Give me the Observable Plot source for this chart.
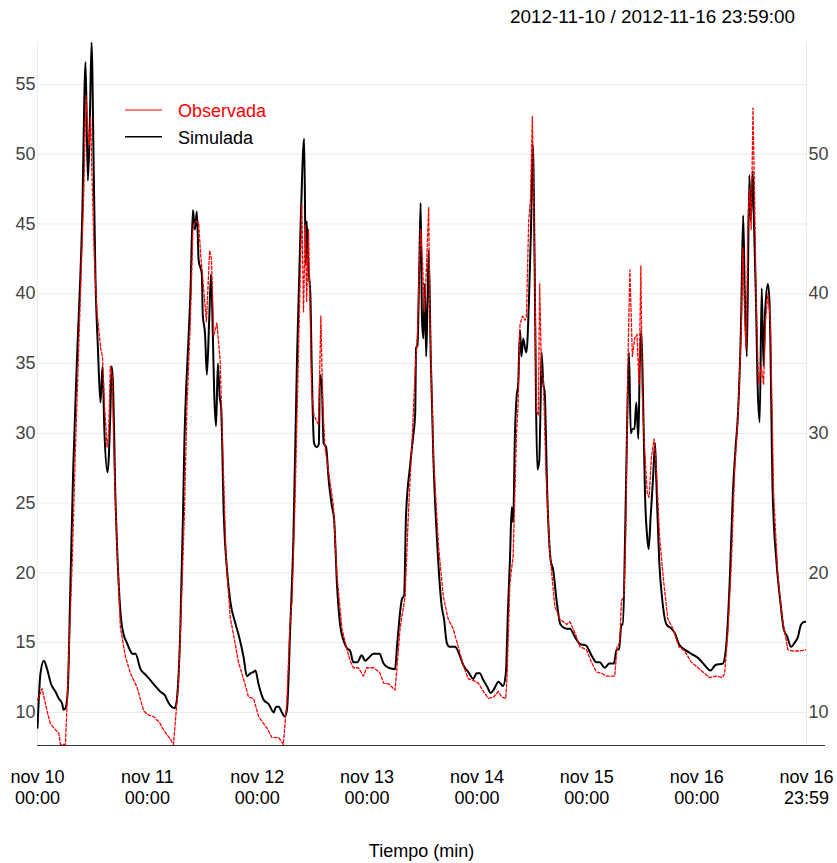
<!DOCTYPE html>
<html>
<head>
<meta charset="utf-8">
<script src="https://cdn.jsdelivr.net/npm/d3@7"></script>
<script src="https://cdn.jsdelivr.net/npm/@observablehq/plot@0.6"></script>
<style>
  body { margin: 0; background: #fff; font-family: "Liberation Sans", Arial, sans-serif; }
  #wrap { position: relative; width: 837px; height: 863px; overflow: hidden; }
  #title { position: absolute; top: 7px; right: 42px; font-size: 18.9px; line-height: 20px; color: #000; white-space: nowrap; }
  #chart { position: absolute; top: 35px; left: 0; }
  .leg { position: absolute; left: 178px; font-size: 18px; line-height: 20px; white-space: nowrap; }
  #legsvg { position: absolute; left: 125px; top: 100px; }
  #xtitle { position: absolute; top: 841px; left: 0; width: 843px; text-align: center; font-size: 18px; line-height: 20px; color: #000; }
  #axisext { position: absolute; left: 806px; top: 744.5px; width: 19px; height: 1px; background: #333; }
</style>
</head>
<body>
<div id="wrap">
  <div id="title"></div>
  <div id="chart"></div>
  <svg id="legsvg" width="40" height="50"></svg>
  <div class="leg" id="leg0" style="top:101px"></div>
  <div class="leg" id="leg1" style="top:128px"></div>
  <div id="xtitle"></div>
  <div id="axisext"></div>
</div>
<script>
// ---- Data (hours since 2012-11-10 00:00) ----
const titleText = "2012-11-10 / 2012-11-16 23:59:00";
const xAxisTitle = "Tiempo (min)";
const seriesNames = ["Observada", "Simulada"];
const seriesColors = ["#ff0000", "#000000"];

const simHours = [0,0.65,1.4,2.1,3.0,3.9,4.65,5.4,5.7,6.1,6.6,7.2,7.8,8.65,9.75,10.5,11.0,11.4,11.8,12.3,12.65,13.2,13.75,14.2,14.6,15.3,15.9,16.2,16.5,17.0,17.5,18.25,18.8,19.5,20.3,20.7,21.4,22.5,23.6,24.7,25.7,26.8,27.9,28.3,29.0,29.9,30.3,30.7,31.2,31.8,32.1,32.4,32.8,33.4,33.95,34.4,34.8,35.2,35.9,36.1,36.6,37.0,37.5,37.9,38.3,38.6,39.0,39.4,39.8,40.1,40.7,41.4,42.1,43.2,43.9,45.0,45.75,46.5,47.2,47.6,48.3,49.4,50.5,51.6,52.1,52.7,53.4,54.0,54.5,55.2,55.9,56.7,57.5,58.25,58.6,58.8,59.2,59.6,59.9,60.4,61.0,61.45,61.7,62.1,62.5,63.05,63.6,64.3,64.8,65.4,66.1,66.8,67.6,68.3,69.0,69.9,70.8,71.6,72.3,73.4,74.7,75.6,76.7,78.1,78.6,79.6,80.1,80.5,81.4,82.0,82.5,82.7,83.0,83.4,83.7,84.0,84.3,84.6,84.9,85.2,85.45,85.9,86.5,87.35,88.3,88.8,89.4,90.0,91.2,92.1,93.0,94.1,95.2,95.9,96.6,97.4,98.3,99.0,99.6,100.7,101.7,102.3,102.8,103.2,103.6,103.9,104.3,104.65,105.0,105.4,105.7,106.1,106.5,106.8,107.4,107.8,108.2,108.6,108.9,109.2,109.6,109.9,110.1,110.5,110.8,111.35,112.1,112.65,113.4,114.25,115.6,116.3,117.4,118.5,119.8,121.0,122.1,122.8,123.9,124.9,125.9,126.5,127.05,127.55,127.9,128.35,128.8,129.2,129.6,129.95,130.4,130.8,131.25,131.55,131.9,132.3,132.7,133.2,133.5,133.95,134.45,134.9,135.2,135.8,136.5,137.4,138.5,139.2,140.1,141.4,142.8,144.3,145.7,147.0,148.1,149.7,150.5,151.2,151.9,152.5,153.0,153.7,154.15,154.5,154.95,155.5,155.8,156.25,156.5,156.95,157.3,157.75,158.2,158.6,158.95,159.55,159.9,160.6,161.4,162.25,163.0,163.8,164.6,165.4,166.1,166.8,167.6,167.983];
const simValues = [8.9,12.8,13.7,13.1,12.0,11.5,11.0,10.6,10.2,10.3,11.5,19.3,27.4,35.5,45.2,56.6,48.1,51.7,58.0,48.5,41.3,36.1,32.2,34.8,30.3,27.2,31.3,34.8,33.5,25.7,20.9,16.7,15.6,15.0,14.4,14.2,14.2,13.1,12.7,12.3,11.9,11.5,11.2,10.9,10.5,10.3,10.6,12.0,16.0,24.4,29.5,32.6,35.5,40.0,46.0,44.6,45.9,42.4,41.4,38.5,37.1,34.2,38.1,41.4,37.1,32.9,30.5,35.0,32.6,31.9,24.1,20.2,18.0,16.4,15.6,14.0,12.6,12.8,12.9,13.0,12.0,10.9,10.6,10.0,10.4,10.4,10.0,9.7,10.2,16.0,22.5,35.5,45.2,51.1,42.0,45.2,41.7,40.0,34.8,29.3,29.0,29.2,34.2,33.5,29.3,29.0,26.7,24.8,23.8,19.3,16.3,15.2,14.6,14.4,13.6,13.6,14.1,13.7,13.9,14.2,14.2,13.5,13.2,13.1,15.0,18.1,18.4,24.1,27.7,29.6,31.4,36.1,36.3,42.0,46.5,38.1,36.8,40.7,35.5,39.4,43.1,35.5,28.0,21.9,17.6,16.7,15.0,14.7,14.7,14.2,13.4,12.9,12.4,12.8,12.8,12.3,11.8,11.4,11.6,12.2,11.9,12.8,17.6,20.9,24.7,23.6,30.0,32.6,33.5,37.4,35.5,36.8,36.1,35.8,40.0,44.6,50.7,42.0,32.2,27.4,28.0,32.2,35.8,33.5,32.9,25.7,20.9,20.2,18.0,16.3,16.0,16.0,15.4,14.9,14.8,14.1,13.6,13.6,13.2,13.5,13.5,14.5,14.5,16.3,16.3,22.5,30.6,35.8,30.0,30.3,30.3,32.2,29.6,34.8,37.4,32.2,25.7,22.5,21.7,24.1,26.7,29.3,26.4,20.9,18.0,16.3,16.0,15.7,14.9,14.5,14.2,13.9,13.4,13.0,13.4,13.5,15.0,19.3,25.7,29.0,31.3,38.1,45.6,40.0,35.5,48.5,45.2,48.8,45.2,39.5,33.5,30.8,40.4,34.8,38.7,40.7,39.4,25.7,20.9,18.0,16.0,15.4,14.7,15.0,15.4,16.3,16.5,16.5];

const obsHours = [0,1.0,2.1,2.8,3.8,4.65,5.0,6.1,6.5,7.05,7.6,8.3,9.0,10.1,10.6,11.0,11.3,11.6,11.9,12.4,13.0,13.8,14.2,14.6,15.2,15.55,15.9,16.3,16.8,17.5,18.1,19.2,20.3,21.75,23.2,24.3,25.4,26.8,27.6,29.0,29.7,30.3,30.8,31.6,32.1,32.65,33.4,33.95,34.5,35.2,35.6,36.3,36.9,37.6,38.0,38.5,39.2,39.9,40.5,41.2,42.1,42.8,43.9,45.0,46.1,47.2,48.3,49.4,50.1,51.2,52.7,53.7,54.5,55.1,55.6,56.3,57.0,57.75,58.1,58.5,58.8,59.2,59.9,60.4,61.4,61.9,62.3,62.8,64.65,65.4,66.5,67.6,68.3,69.0,70.1,71.2,71.9,73.4,74.7,75.6,76.7,78.1,78.5,79.2,80.3,81.0,81.75,82.5,83.0,83.4,83.7,84.1,84.5,84.9,85.45,85.7,86.5,87.6,88.65,89.7,90.8,91.9,93.0,94.1,95.2,96.3,97.4,98.5,99.6,100.7,101.4,102.3,102.6,103.2,103.9,104.65,105.0,105.4,105.95,106.5,106.8,107.3,107.7,108.1,108.6,109.0,109.4,109.7,110.1,110.5,111.05,111.9,113.0,114.1,115.6,116.3,117.4,118.5,119.9,121.0,122.1,123.2,124.3,126.1,126.6,127.2,127.55,128.1,128.5,129.0,129.4,129.95,130.45,130.95,131.4,131.8,132.1,132.6,133.2,133.6,134.1,134.7,135.2,135.9,136.8,137.7,138.8,140.1,141.4,142.8,144.3,145.7,146.8,148.3,149.6,150.1,150.8,151.6,152.3,153.0,153.7,154.1,154.5,154.8,155.2,155.55,155.9,156.3,156.65,157.0,157.5,158.1,158.6,159.05,159.55,160.1,160.8,161.7,162.7,163.9,165.0,166.5,167.983];
const obsValues = [10.9,11.7,10.1,9.2,8.8,8.5,7.7,7.7,10.9,16.0,20.9,29.0,36.1,47.1,54.2,51.7,50.7,52.7,48.5,42.6,38.7,36.1,35.5,32.2,29.0,30.0,34.8,34.2,27.4,20.9,16.1,14.0,12.8,11.8,10.1,9.8,9.7,9.2,8.7,8.1,7.7,10.1,12.1,19.3,24.4,31.9,38.1,44.6,45.2,45.1,43.0,40.3,38.0,43.1,42.5,37.0,37.9,35.2,28.5,21.0,16.8,15.6,13.6,12.4,11.1,11.0,9.7,9.2,8.9,8.2,8.2,7.7,10.9,16.0,18.0,25.7,35.5,46.4,38.7,44.9,39.4,44.6,32.9,31.3,30.6,38.4,32.2,29.0,24.8,19.9,16.0,14.5,13.7,13.2,13.2,12.6,13.2,13.2,12.9,12.1,12.05,11.6,13.1,16.0,18.3,24.1,29.0,34.5,37.1,42.0,44.6,42.3,38.7,41.3,46.2,38.7,28.3,21.9,18.3,16.7,16.0,14.7,13.4,12.4,12.3,12.1,11.5,11.0,11.1,11.5,11.1,11.0,12.8,19.3,21.2,30.0,32.2,37.8,38.4,38.1,38.4,45.2,46.8,52.7,42.0,31.6,31.3,40.7,34.2,33.9,27.4,21.5,17.6,16.7,16.3,16.5,15.7,14.7,14.5,13.6,12.9,12.8,12.6,12.6,14.7,15.0,18.0,18.3,22.5,35.5,41.7,35.5,36.8,37.1,33.5,42.0,32.9,29.0,25.7,25.4,28.3,29.6,27.4,22.5,19.3,16.7,16.0,14.7,14.4,13.6,13.2,12.8,12.5,12.6,12.5,12.8,15.7,20.9,27.4,31.0,37.1,43.3,38.1,36.1,45.2,47.5,44.6,53.3,46.8,39.4,33.5,34.8,33.5,38.1,40.0,38.1,25.7,19.9,16.7,14.5,14.4,14.4,14.5];

const yTicksLeft = [10, 15, 20, 25, 30, 35, 40, 45, 50, 55];
const yTicksRight = [10, 20, 30, 40, 50];
const xTickHours = [0, 24, 48, 72, 96, 120, 144, 167.983];
const xTickLabels = ["nov 10\n00:00", "nov 11\n00:00", "nov 12\n00:00", "nov 13\n00:00", "nov 14\n00:00", "nov 15\n00:00", "nov 16\n00:00", "nov 16\n23:59"];
const yDomain = [7.63, 58.0];

// ---- Build ----
const T0 = Date.UTC(2012, 10, 10);
const toDate = h => new Date(T0 + Math.round(h * 60) * 60000);
const sim = simHours.map((h, i) => ({t: toDate(h), v: simValues[i]}));
const obs = obsHours.map((h, i) => ({t: toDate(h), v: obsValues[i]}));
const xTicks = xTickHours.map(toDate);
const labelMap = new Map(xTicks.map((d, i) => [+d, xTickLabels[i]]));
const xDomain = [xTicks[0], xTicks[xTicks.length - 1]];

const chart = Plot.plot({
  width: 837,
  height: 828,
  marginTop: 7,
  marginBottom: 118,
  marginLeft: 37,
  marginRight: 31,
  style: {fontFamily: "'Liberation Sans', Arial, sans-serif", fontSize: "18px", background: "#fff", overflow: "visible"},
  x: {type: "utc", domain: xDomain},
  y: {domain: yDomain},
  marks: [
    Plot.ruleY(yTicksLeft, {stroke: "#ebebeb", strokeWidth: 1}),
    Plot.ruleX(xDomain, {stroke: "#ebebeb", strokeWidth: 1}),
    Plot.axisY(yTicksLeft, {anchor: "left", tickSize: 0, tickPadding: 2, fill: "#444", fontSize: 18, label: null}),
    Plot.axisY(yTicksRight, {anchor: "right", tickSize: 0, tickPadding: 2, fill: "#444", fontSize: 18, label: null}),
    Plot.axisX(xTicks, {anchor: "bottom", tickSize: 0, tickPadding: 22, fill: "#000", fontSize: 18, lineHeight: 1.2, tickFormat: d => labelMap.get(+d), label: null}),
    Plot.ruleY([yDomain[0]], {stroke: "#333", strokeWidth: 1}),
    Plot.line(sim, {x: "t", y: "v", stroke: seriesColors[1], strokeWidth: 2, strokeLinejoin: "round", curve: "monotone-x", clip: true}),
    Plot.line(obs, {x: "t", y: "v", stroke: seriesColors[0], strokeWidth: 1.3, strokeDasharray: "3,2", clip: true})
  ]
});
document.getElementById("chart").appendChild(chart);

document.getElementById("title").textContent = titleText;
document.getElementById("xtitle").textContent = xAxisTitle;
const l0 = document.getElementById("leg0");
l0.textContent = seriesNames[0]; l0.style.color = seriesColors[0];
const l1 = document.getElementById("leg1");
l1.textContent = seriesNames[1]; l1.style.color = seriesColors[1];
const ls = d3.select("#legsvg");
ls.append("line").attr("x1", 0).attr("x2", 37).attr("y1", 10).attr("y2", 10).attr("stroke", seriesColors[0]).attr("stroke-width", 1.2);
ls.append("line").attr("x1", 0).attr("x2", 37).attr("y1", 36.7).attr("y2", 36.7).attr("stroke", seriesColors[1]).attr("stroke-width", 1.5);
</script>
</body>
</html>
